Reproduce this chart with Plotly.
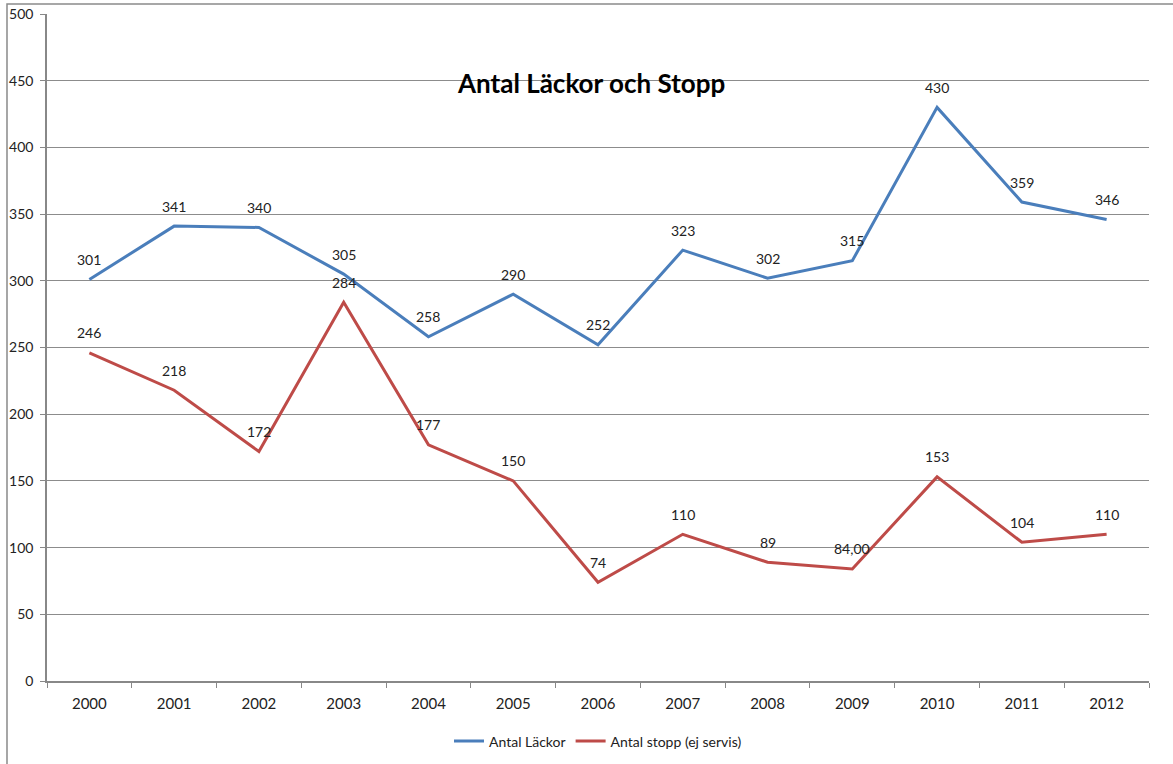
import plotly.graph_objects as go

years = ["2000", "2001", "2002", "2003", "2004", "2005", "2006",
         "2007", "2008", "2009", "2010", "2011", "2012"]
lackor = [301, 341, 340, 305, 258, 290, 252, 323, 302, 315, 430, 359, 346]
stopp = [246, 218, 172, 284, 177, 150, 74, 110, 89, 84, 153, 104, 110]
stopp_labels = ["246", "218", "172", "284", "177", "150", "74",
                "110", "89", "84,00", "153", "104", "110"]

FONT = "Lato, 'Liberation Sans', sans-serif"

fig = go.Figure()
fig.add_trace(go.Scatter(
    x=years, y=lackor, name="Antal Läckor", mode="lines",
    line=dict(color="#4A7EBB", width=3),
))
fig.add_trace(go.Scatter(
    x=years, y=stopp, name="Antal stopp (ej servis)", mode="lines",
    line=dict(color="#BE4B48", width=3),
))

# data labels sit ~20px above each point, Excel style
# (category axis: annotation x given as the category index)
for vals, labels in ((lackor, [str(v) for v in lackor]), (stopp, stopp_labels)):
    for i, (v, lab) in enumerate(zip(vals, labels)):
        fig.add_annotation(x=i, y=v, text=lab, showarrow=False, yshift=20,
                           font=dict(size=14, color="#222", family=FONT))

# Excel-style title sitting inside the plot area
fig.add_annotation(
    text="<b>Antal Läckor och Stopp</b>", x=0.494, y=0.897,
    xref="paper", yref="paper", xanchor="center", yanchor="middle",
    showarrow=False, font=dict(size=26, color="#000", family=FONT),
)

# outer chart border (cropped on the right and bottom in the original)
fig.add_shape(type="rect", xref="paper", yref="paper",
              x0=-0.0363, x1=1.05, y0=-0.16, y1=1.015,
              line=dict(color="#8a8a8a", width=1.5), layer="below")

# figure is a little taller than the window so the legend has room below;
# the extra strip is simply cut off, like the original's border
fig.update_layout(
    width=1173, height=775,
    margin=dict(l=47, r=24, t=14, b=94),
    paper_bgcolor="white", plot_bgcolor="white",
    font=dict(family=FONT, size=14, color="#222"),
    showlegend=True,
    legend=dict(orientation="h", x=0.5, xanchor="center", y=-0.0667,
                yanchor="top", font=dict(size=14)),
    xaxis=dict(
        type="category", tickson="boundaries", ticks="outside", ticklen=5,
        tickcolor="#888", showline=True, linecolor="#888", linewidth=1.5,
        showgrid=False, range=[-0.5, 12.5], automargin=False,
        ticklabelstandoff=8, tickfont=dict(size=15),
    ),
    yaxis=dict(
        range=[0, 500], dtick=50, ticks="outside", ticklen=5, tickcolor="#888",
        showline=True, linecolor="#888", linewidth=1.5,
        showgrid=True, gridcolor="#8c8c8c", gridwidth=1, zeroline=False,
        automargin=False, ticklabelstandoff=4,
    ),
)

# drop the default 8px page margin so the figure fills the window exactly
fig.write_html(
    "out.html", config={"displayModeBar": False},
    post_script="document.body.style.margin='0';document.body.style.overflow='hidden';",
)
